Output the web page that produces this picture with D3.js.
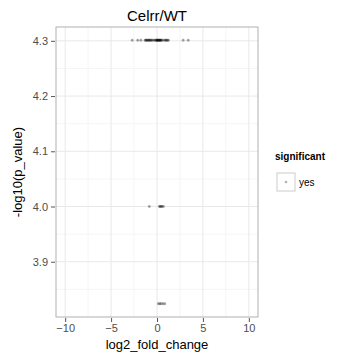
<!DOCTYPE html>
<html>
<head>
<meta charset="utf-8">
<script src="https://cdn.jsdelivr.net/npm/d3@7"></script>
<style>
  body { margin: 0; background: #fff; }
  text { font-family: "Liberation Sans", Arial, sans-serif; }
</style>
</head>
<body>
<div class="chart"></div>
<script>
var svgWidth = 348;
var svgHeight = 362;

// panel box
var margin = { top: 27, right: 90, bottom: 45, left: 56 };
var width = 258 - margin.left;
var height = 317 - margin.top;

// data: -log10(p) rows and the log2 fold changes on them
var rowTop = 4.301;
var rowMid = 4.0;
var rowLow = 3.824;
var foldTop = [-2.7, -2.1, -1.75, -1.3, -1.22, -1.15, -1.05, -0.98, -0.9, -0.82,
  -0.75, -0.65, -0.58, -0.45, -0.3, -0.2, -0.1, -0.03, 0, 0.05, 0.1, 0.15, 0.2,
  0.25, 0.3, 0.35, 0.4, 0.45, 0.55, 0.7, 0.88, 0.95, 1.05, 1.15, 1.25, 2.85, 3.4];
var foldMid = [-0.84, 0.25, 0.35, 0.45, 0.55, 0.7];
var foldLow = [0.15, 0.3, 0.45, 0.65, 0.85];

var xTicks = [-10, -5, 0, 5, 10];
var xMinor = [-7.5, -2.5, 2.5, 7.5];
var yTicks = [3.9, 4.0, 4.1, 4.2, 4.3];
var yMinor = [3.85, 3.95, 4.05, 4.15, 4.25];

var points = [];
foldTop.forEach(function(d) { points.push({ x: d, y: rowTop }); });
foldMid.forEach(function(d) { points.push({ x: d, y: rowMid }); });
foldLow.forEach(function(d) { points.push({ x: d, y: rowLow }); });

var svg = d3.select(".chart")
  .append("svg")
  .attr("width", svgWidth)
  .attr("height", svgHeight);

var chart = svg.append("g")
  .attr("transform", "translate(" + margin.left + "," + margin.top + ")");

var xScale = d3.scaleLinear().domain([-11, 11]).range([0, width]);
var yScale = d3.scaleLinear().domain([3.8, 4.325]).range([height, 0]);

// grid
chart.selectAll(".xminor").data(xMinor).enter().append("line")
  .attr("x1", d => xScale(d)).attr("x2", d => xScale(d))
  .attr("y1", 0).attr("y2", height)
  .attr("stroke", "#f5f5f5");
chart.selectAll(".yminor").data(yMinor).enter().append("line")
  .attr("y1", d => yScale(d)).attr("y2", d => yScale(d))
  .attr("x1", 0).attr("x2", width)
  .attr("stroke", "#f5f5f5");
chart.selectAll(".xmajor").data(xTicks).enter().append("line")
  .attr("x1", d => xScale(d)).attr("x2", d => xScale(d))
  .attr("y1", 0).attr("y2", height)
  .attr("stroke", "#e8e8e8");
chart.selectAll(".ymajor").data(yTicks).enter().append("line")
  .attr("y1", d => yScale(d)).attr("y2", d => yScale(d))
  .attr("x1", 0).attr("x2", width)
  .attr("stroke", "#e8e8e8");

// points
chart.selectAll(".pt").data(points).enter().append("circle")
  .attr("cx", d => xScale(d.x))
  .attr("cy", d => yScale(d.y))
  .attr("r", 1.4)
  .attr("fill", "#000")
  .attr("fill-opacity", 0.35);

// panel border
chart.append("rect")
  .attr("width", width).attr("height", height)
  .attr("fill", "none").attr("stroke", "#b0b0b0");

// axes
var bottomAxis = d3.axisBottom(xScale).tickValues(xTicks).tickSize(4).tickPadding(2);
var leftAxis = d3.axisLeft(yScale).tickValues(yTicks).tickSize(4).tickPadding(3)
  .tickFormat(d3.format(".1f"));

var gx = chart.append("g").attr("transform", "translate(0," + (height + 1) + ")").call(bottomAxis);
var gy = chart.append("g").attr("transform", "translate(-1,0)").call(leftAxis);
[gx, gy].forEach(function(g) {
  g.select(".domain").remove();
  g.selectAll(".tick line").attr("stroke", "#555");
  g.selectAll(".tick text").attr("fill", "#4d4d4d").style("font-size", "11px");
});

// titles
svg.append("text")
  .attr("x", margin.left + width / 2).attr("y", 21)
  .attr("text-anchor", "middle")
  .style("font-size", "15px")
  .text("Celrr/WT");

svg.append("text")
  .attr("x", margin.left + width / 2).attr("y", 349)
  .attr("text-anchor", "middle")
  .style("font-size", "13px")
  .text("log2_fold_change");

svg.append("text")
  .attr("transform", "translate(22," + (margin.top + height / 2) + ") rotate(-90)")
  .attr("text-anchor", "middle")
  .style("font-size", "13px")
  .text("-log10(p_value)");

// legend
var legend = svg.append("g").attr("transform", "translate(275,160)");
legend.append("text")
  .attr("x", 0).attr("y", 0)
  .style("font-size", "10px").style("font-weight", "bold")
  .text("significant");
legend.append("rect")
  .attr("x", 2).attr("y", 13).attr("width", 18).attr("height", 18)
  .attr("fill", "#fff").attr("stroke", "#ccc");
legend.append("circle")
  .attr("cx", 11).attr("cy", 22).attr("r", 1.3)
  .attr("fill", "#000").attr("fill-opacity", 0.3);
legend.append("text")
  .attr("x", 24).attr("y", 26)
  .style("font-size", "10px")
  .text("yes");
</script>
</body>
</html>
